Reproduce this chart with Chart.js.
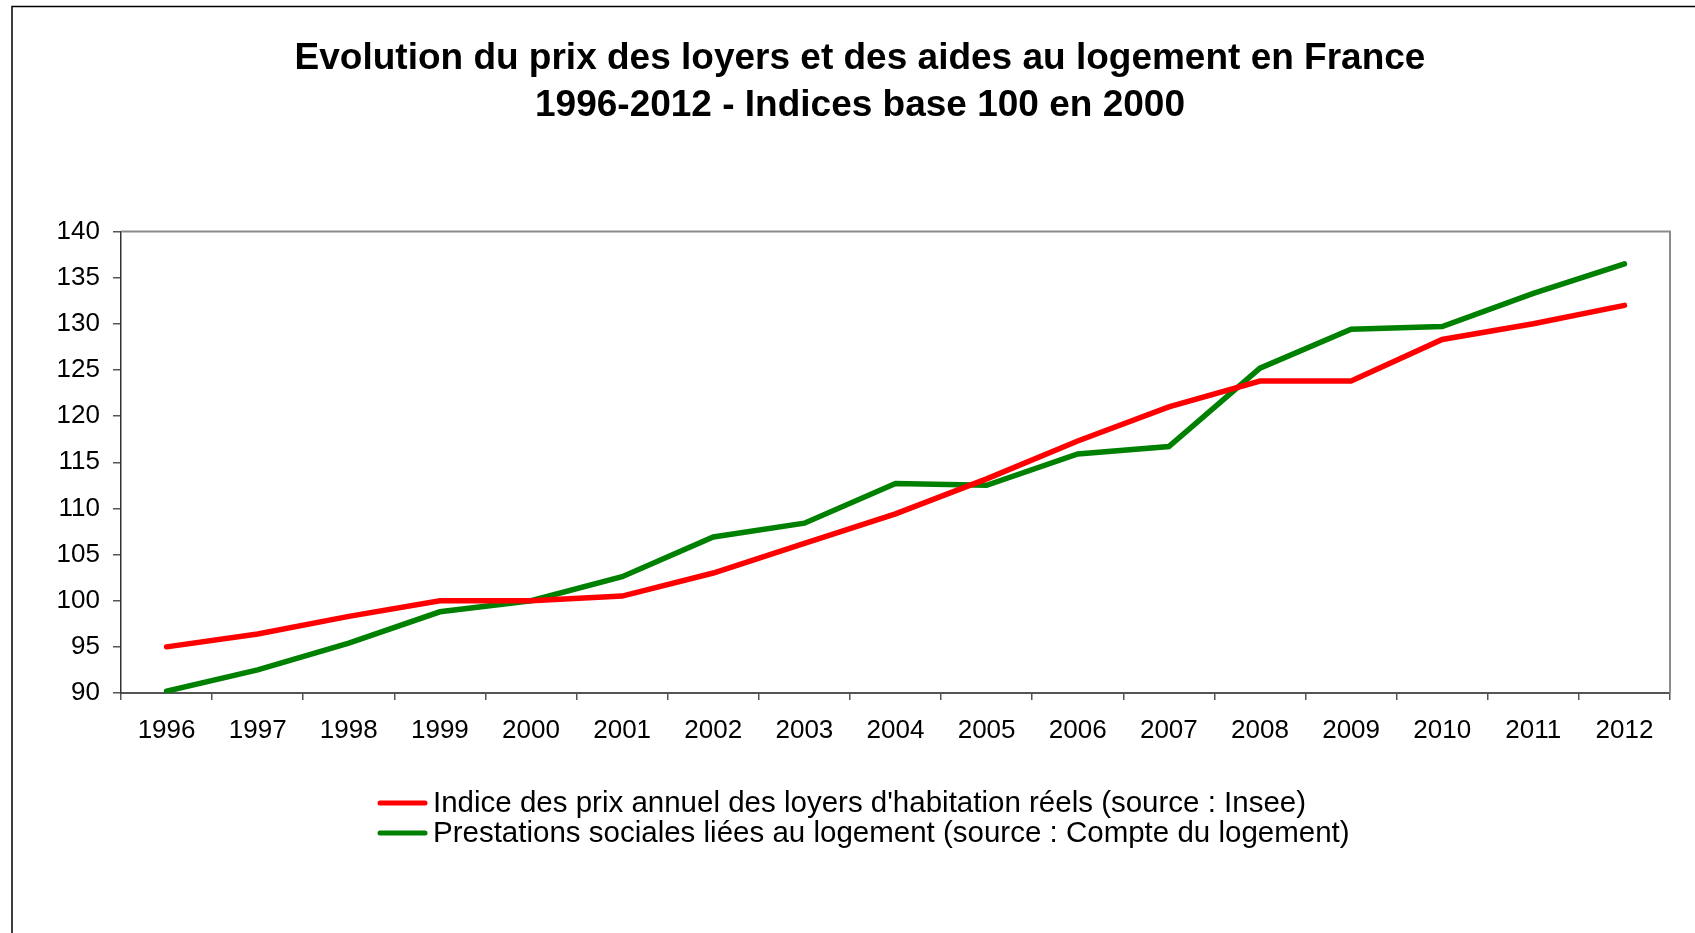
<!DOCTYPE html>
<html>
<head>
<meta charset="utf-8">
<script src="https://cdn.jsdelivr.net/npm/chart.js@4/dist/chart.umd.min.js"></script>
<style>
    html, body { margin: 0; padding: 0; background: #fff; }
    #wrap { position: relative; width: 1695px; height: 933px; }
</style>
</head>
<body>
<div id="wrap"><canvas id="loyersChart" width="1695" height="933"></canvas></div>
<script>
// Data
const years = ['1996', '1997', '1998', '1999', '2000', '2001', '2002', '2003', '2004',
    '2005', '2006', '2007', '2008', '2009', '2010', '2011', '2012'];
const loyers = [95.0, 96.4, 98.3, 100.0, 100.0, 100.5, 103.0, 106.2, 109.4,
    113.2, 117.3, 121.0, 123.8, 123.8, 128.3, 130.0, 132.0];
const aides = [90.2, 92.5, 95.4, 98.8, 100.0, 102.6, 106.9, 108.4, 112.7,
    112.5, 115.9, 116.7, 125.2, 129.4, 129.7, 133.3, 136.5];
const yMin = 90;
const yMax = 140;
const yStep = 5;

const titleLines = [
    'Evolution du prix des loyers et des aides au logement en France',
    '1996-2012 - Indices base 100 en 2000'
];
const seriesLabels = [
    "Indice des prix annuel des loyers d'habitation réels (source : Insee)",
    'Prestations sociales liées au logement (source : Compte du logement)'
];

const FONT = "'Liberation Sans', Arial, Helvetica, sans-serif";

// outer frame (left + top only) and grey box on top/right of plot area
const framePlugin = {
    id: 'frame',
    beforeDraw(chart) {
        const ctx = chart.ctx;
        ctx.save();
        ctx.fillStyle = '#fff';
        ctx.fillRect(0, 0, chart.width, chart.height);
        ctx.strokeStyle = '#000';
        ctx.lineWidth = 1.5;
        ctx.beginPath();
        ctx.moveTo(12, chart.height);
        ctx.lineTo(12, 6.5);
        ctx.lineTo(chart.width, 6.5);
        ctx.stroke();
        ctx.restore();
    },
    afterDatasetsDraw(chart) {
        const {ctx, chartArea: a} = chart;
        ctx.save();
        ctx.strokeStyle = '#8c8c8c';
        ctx.lineWidth = 2;
        ctx.beginPath();
        ctx.moveTo(a.left, a.top);
        ctx.lineTo(a.right, a.top);
        ctx.lineTo(a.right, a.bottom);
        ctx.stroke();
        ctx.restore();
    }
};

// legend stacked under the axis, left aligned like the original
const stackedLegend = {
    id: 'stackedLegend',
    afterDraw(chart) {
        const ctx = chart.ctx;
        const x0 = 380, y0 = 803, rowH = 30;
        ctx.save();
        ctx.font = '29.5px ' + FONT;
        ctx.textBaseline = 'middle';
        chart.data.datasets.forEach((ds, i) => {
            const y = y0 + i * rowH;
            ctx.strokeStyle = ds.borderColor;
            ctx.lineWidth = 5;
            ctx.lineCap = 'round';
            ctx.beginPath();
            ctx.moveTo(x0, y);
            ctx.lineTo(x0 + 45, y);
            ctx.stroke();
            ctx.fillStyle = '#000';
            ctx.fillText(ds.label, x0 + 53, y + 1);
        });
        ctx.restore();
    }
};

const ctx = document.getElementById('loyersChart');
new Chart(ctx.getContext('2d'), {
    type: 'line',
    data: {
        labels: years,
        datasets: [{
            label: seriesLabels[0],
            data: loyers,
            borderColor: '#ff0000',
            borderWidth: 5.5,
            borderCapStyle: 'round',
            pointRadius: 0,
            tension: 0,
            fill: false
        }, {
            label: seriesLabels[1],
            data: aides,
            borderColor: '#008000',
            borderWidth: 5.5,
            borderCapStyle: 'round',
            pointRadius: 0,
            tension: 0,
            fill: false
        }]
    },
    options: {
        responsive: false,
        animation: false,
        events: [],
        layout: {
            padding: { left: 50, right: 25, top: 0, bottom: 0 }
        },
        plugins: {
            legend: { display: false },
            tooltip: { enabled: false },
            title: {
                display: true,
                text: titleLines,
                color: '#000',
                font: { family: FONT, size: 37, weight: 'bold', lineHeight: 1.25 },
                padding: { top: 36, bottom: 103 }
            }
        },
        scales: {
            x: {
                offset: true,
                grid: {
                    display: true,
                    offset: true,
                    drawOnChartArea: false,
                    tickLength: 7,
                    color: '#555',
                    lineWidth: 1.5
                },
                border: { color: '#555', width: 2 },
                ticks: {
                    color: '#000',
                    padding: 15,
                    maxRotation: 0,
                    autoSkip: false,
                    font: { family: FONT, size: 26 }
                },
                afterFit: (scale) => { scale.height = 240; }
            },
            y: {
                min: yMin,
                max: yMax,
                grid: {
                    display: true,
                    drawOnChartArea: false,
                    tickLength: 8,
                    color: '#555',
                    lineWidth: 1.5
                },
                border: { color: '#333', width: 1.5 },
                ticks: {
                    stepSize: yStep,
                    color: '#000',
                    padding: 13,
                    font: { family: FONT, size: 26 }
                },
                afterFit: (scale) => { scale.width = 71; }
            }
        }
    },
    plugins: [framePlugin, stackedLegend]
});
</script>
</body>
</html>
